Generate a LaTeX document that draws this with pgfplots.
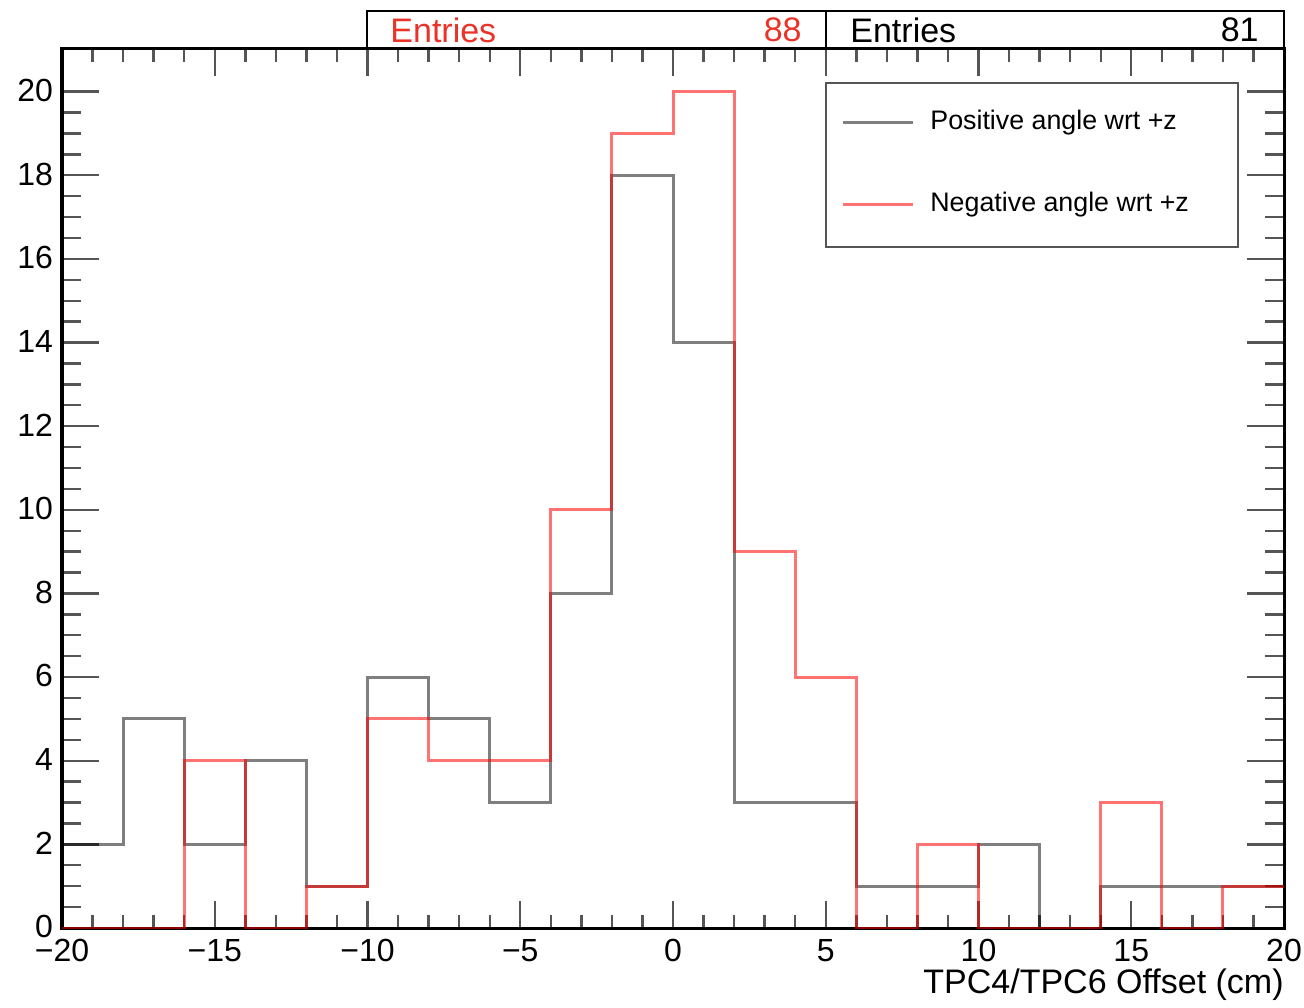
\documentclass[border=0pt]{standalone}
\usepackage{pgfplots}
\pgfplotsset{compat=1.18}
\usepackage{fontspec}
\setmainfont{Liberation Sans}

\definecolor{statred}{RGB}{235,50,40}
\definecolor{tickgray}{RGB}{85,85,85}

% TPC4/TPC6 offset histograms, 2 cm bins from -20 to 20 cm
% (left bin edges, last point closes the final bin)
\pgfplotstableread{
x    pos  neg
-20  2    0
-18  5    0
-16  2    4
-14  4    0
-12  1    1
-10  6    5
-8   5    4
-6   3    4
-4   8    10
-2   18   19
0    14   20
2    3    9
4    3    6
6    1    0
8    1    2
10   2    0
12   0    0
14   1    3
16   1    0
18   1    1
20   1    1
}\offsets

\begin{document}
\begin{tikzpicture}
\begin{axis}[
  width=611pt, height=439.5pt, scale only axis,
  xmin=-20, xmax=20, ymin=0, ymax=21.02,
  axis line style={line width=1.5pt, black},
  xtick={-20,-15,...,20},
  xticklabels={−20,−15,−10,−5,0,5,10,15,20},
  minor x tick num=4,
  ytick={0,2,...,20},
  minor y tick num=3,
  tick align=inside,
  tick style={line width=1.2pt, tickgray},
  major tick length=13.5pt, minor tick length=6.5pt,
  major y tick style={/pgfplots/major tick length=18.5pt},
  minor y tick style={/pgfplots/minor tick length=9.5pt},
  ticklabel style={font=\fontsize{16}{19}\selectfont, black, inner sep=1pt},
  xticklabel style={yshift=-4.6pt},
  yticklabel style={xshift=-3.3pt, yshift=0.6pt},
  /pgf/number format/assume math mode=true,
]
\addplot[const plot, no marks, black, opacity=0.5, line width=1.5pt]
  table[x=x, y=pos] {\offsets};
\addplot[const plot, no marks, red, opacity=0.55, line width=1.5pt]
  table[x=x, y=neg] {\offsets};

% legend
\draw[line width=1pt, tickgray] (axis description cs:0.625,0.775) rectangle (axis description cs:0.9624,0.9614);
\draw[black, opacity=0.5, line width=1.5pt] (axis description cs:0.6391,0.9159) -- (axis description cs:0.6964,0.9159);
\draw[red, opacity=0.55, line width=1.5pt] (axis description cs:0.6391,0.8227) -- (axis description cs:0.6964,0.8227);
\node[anchor=west, inner sep=0pt, font=\fontsize{13.4}{15}\selectfont] at (axis description cs:0.7103,0.9159) {Positive angle wrt +z};
\node[anchor=west, inner sep=0pt, font=\fontsize{13.4}{15}\selectfont] at (axis description cs:0.7103,0.8227) {Negative angle wrt +z};

\coordinate (sw) at (axis description cs:0,0);
\coordinate (ne) at (axis description cs:1,1);
\coordinate (sA) at (axis description cs:0.2496,1);
\coordinate (sB) at (axis description cs:0.6252,1);
\coordinate (sC) at (axis description cs:1,1);
\end{axis}

% axis title
\node[anchor=base east, inner sep=0pt, font=\fontsize{17}{20}\selectfont] at ([yshift=-32.5pt]sw -| ne) {TPC4/TPC6 Offset (cm)};

% statistics boxes
\draw[line width=1pt, black] (sA) -- ([yshift=19pt]sA) -- ([yshift=19pt]sC) -- (sC);
\draw[line width=1pt, black] (sB) -- ([yshift=19pt]sB);
\node[anchor=west, inner sep=0pt, text=statred, font=\fontsize{17}{20}\selectfont] at ([xshift=11.5pt,yshift=9.5pt]sA) {Entries};
\node[anchor=east, inner sep=0pt, text=statred, font=\fontsize{17}{20}\selectfont] at ([xshift=-12pt,yshift=9.5pt]sB) {88};
\node[anchor=west, inner sep=0pt, font=\fontsize{17}{20}\selectfont] at ([xshift=12pt,yshift=9.5pt]sB) {Entries};
\node[anchor=east, inner sep=0pt, font=\fontsize{17}{20}\selectfont] at ([xshift=-12.5pt,yshift=9.5pt]sC) {81};

\pgfresetboundingbox
\path ([xshift=-31pt,yshift=-39.5pt]sw) rectangle ([xshift=10pt,yshift=24.5pt]ne);
\end{tikzpicture}
\end{document}
